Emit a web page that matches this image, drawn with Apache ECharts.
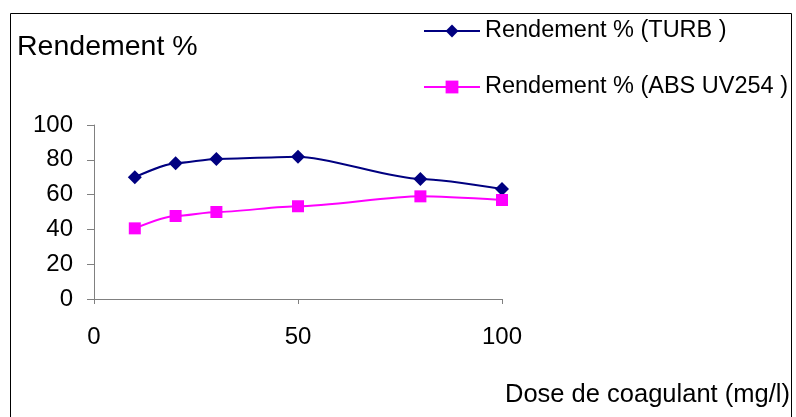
<!DOCTYPE html>
<html>
<head>
<meta charset="utf-8">
<script src="https://cdn.jsdelivr.net/npm/echarts@6/dist/echarts.min.js"></script>
<style>
html,body{margin:0;padding:0;background:#fff;}
#chart{width:796px;height:417px;}
</style>
</head>
<body>
<div id="chart"></div>
<script>
// Coagulant dose (mg/l) and removal efficiency (%)
const doses = [10, 20, 30, 50, 80, 100];
const turbYield = [70, 78, 80.5, 81.8, 69, 63.2];
const absYield = [40.6, 47.7, 50, 53.3, 59, 56.9];
const seriesNames = ['Rendement % (TURB )', 'Rendement % (ABS UV254 )'];

const font = '"Liberation Sans", Arial, sans-serif';
const chart = echarts.init(document.getElementById('chart'), null, {renderer: 'canvas'});

chart.setOption({
  animation: false,
  backgroundColor: '#ffffff',
  graphic: [
    {type: 'rect', shape: {x: 10.5, y: 13.5, width: 781, height: 420}, style: {fill: 'none', stroke: '#000', lineWidth: 1}, z: -1},
    {type: 'text', left: 17, top: 33, style: {text: 'Rendement %', font: '28.5px ' + font, fill: '#000'}}
  ],
  legend: {
    orient: 'vertical',
    left: 423,
    top: 19,
    padding: 0,
    itemGap: 32,
    itemWidth: 56,
    itemHeight: 16,
    textStyle: {fontFamily: font, fontSize: 23.5, color: '#000'},
    data: seriesNames
  },
  grid: {left: 94, right: 294, top: 125, bottom: 118, containLabel: false},
  xAxis: {
    type: 'value', min: 0, max: 100, interval: 50,
    name: 'Dose de coagulant (mg/l)',
    nameLocation: 'end',
    nameGap: 0,
    nameTextStyle: {fontFamily: font, fontSize: 25.5, color: '#000', align: 'left', verticalAlign: 'top', padding: [83, 0, 0, 3]},
    axisLine: {lineStyle: {color: '#808080', width: 1}},
    axisTick: {length: 5, lineStyle: {color: '#808080'}},
    axisLabel: {fontFamily: font, fontSize: 24, color: '#000', margin: 26},
    splitLine: {show: false}
  },
  yAxis: {
    type: 'value', min: 0, max: 100, interval: 20,
    axisLine: {show: true, lineStyle: {color: '#808080', width: 1}},
    axisTick: {show: true, length: 7, lineStyle: {color: '#808080'}},
    axisLabel: {fontFamily: font, fontSize: 24, color: '#000', margin: 21},
    splitLine: {show: false}
  },
  series: [
    {
      name: seriesNames[0], type: 'line', smooth: 0.25, smoothMonotone: 'x',
      data: doses.map((d, i) => [d, turbYield[i]]),
      symbol: 'diamond', symbolSize: 14,
      lineStyle: {color: '#000080', width: 2},
      itemStyle: {color: '#000080'}
    },
    {
      name: seriesNames[1], type: 'line', smooth: 0.25, smoothMonotone: 'x',
      data: doses.map((d, i) => [d, absYield[i]]),
      symbol: 'rect', symbolSize: 12,
      lineStyle: {color: '#ff00ff', width: 2},
      itemStyle: {color: '#ff00ff'}
    }
  ]
});
</script>
</body>
</html>
